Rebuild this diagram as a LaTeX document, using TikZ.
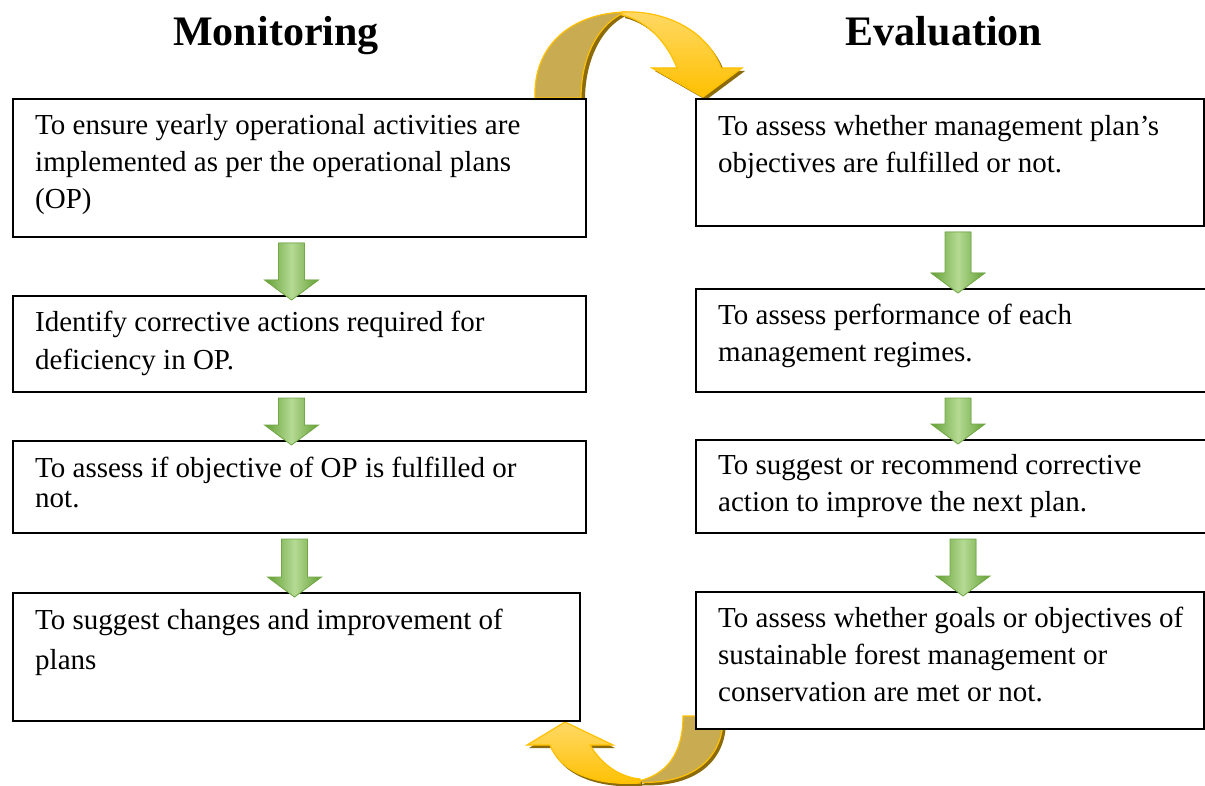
\documentclass[tikz,border=0pt]{standalone}
\usepackage{fontspec}
\setmainfont{Liberation Serif}
\usetikzlibrary{calc}

\definecolor{gold}{HTML}{FFC000}
\definecolor{goldlight}{HTML}{FFD966}
\definecolor{goldback}{HTML}{C9AB52}
\definecolor{goldshadow}{HTML}{8C6B0C}
\definecolor{greenlight}{HTML}{B5DA94}
\definecolor{greendark}{HTML}{64A035}
\definecolor{greenedge}{HTML}{72A846}
\definecolor{greenshadow}{HTML}{44731F}

\tikzset{
  box/.style={draw, line width=2pt, fill=white, anchor=north west, inner sep=0pt},
  boxtext/.style={anchor=base west, inner sep=0pt},
  title/.style={anchor=base, font=\fontsize{42}{50}\selectfont\bfseries},
  ribbon/.style={draw=gold, line width=1.2pt, top color=goldlight, bottom color=gold},
  ribbonback/.style={draw=gold, line width=1.2pt, fill=goldback},
  ribbonshadow/.style={fill=goldshadow},
}

\newcommand\boxfont{\fontsize{29}{37}\selectfont}
\newcommand\tightfont{\fontsize{29}{30}\selectfont}

% outline of a small down arrow: x, top y, tip y
\newcommand\arrowpath[3]{(#1-13pt,#2) -- (#1+13pt,#2) -- (#1+13pt,#3+20pt) -- (#1+27pt,#3+20pt)
  -- (#1,#3) -- (#1-27pt,#3+20pt) -- (#1-13pt,#3+20pt) -- cycle}

% green arrow from the bottom of one box into the next
\newcommand\greenarrow[2]{%
  \fill[greenshadow, shift={(3pt,-3pt)}] let \p1=#1, \p2=#2 in \arrowpath{\x1}{\y1-5pt}{\y2-5pt};
  \draw[greenedge, line width=0.8pt, left color=greendark, right color=greendark, middle color=greenlight]
    let \p1=#1, \p2=#2 in \arrowpath{\x1}{\y1-5pt}{\y2-5pt};
}

\begin{document}
\begin{tikzpicture}[x=1pt, y=-1pt]
  \useasboundingbox (0,0) rectangle (1205,786);

  % curved arrow over the top
  \fill[ribbonshadow, shift={(4,2)}] (535,98) .. controls (533,45) and (572,13) .. (626,12)
    .. controls (600,22) and (581,55) .. (581,98) -- cycle;
  \draw[ribbonback] (535,98) .. controls (533,45) and (572,13) .. (626,12)
    .. controls (600,22) and (581,55) .. (581,98) -- cycle;
  \fill[ribbonshadow, shift={(3,3)}] (622,12) .. controls (665,10) and (707,30) .. (721,68)
    -- (742,68) -- (703,97) -- (652,68) -- (677,68) .. controls (668,45) and (650,22) .. (622,15) -- cycle;
  \draw[ribbon] (622,12) .. controls (665,10) and (707,30) .. (721,68)
    -- (742,68) -- (703,97) -- (652,68) -- (677,68) .. controls (668,45) and (650,22) .. (622,15) -- cycle;

  % curved arrow underneath, back to the left
  \fill[ribbonshadow, shift={(3,3)}] (683,716) .. controls (683,752) and (668,776) .. (634,782)
    .. controls (690,786) and (724,760) .. (723,716) -- cycle;
  \draw[ribbonback] (683,716) .. controls (683,752) and (668,776) .. (634,782)
    .. controls (690,786) and (724,760) .. (723,716) -- cycle;
  \fill[ribbonshadow, shift={(2,3)}] (640,783) .. controls (595,786) and (560,772) .. (550,745)
    -- (527,745) -- (565,722) -- (613,745) -- (590,745) .. controls (602,765) and (620,777) .. (640,779) -- cycle;
  \draw[ribbon] (640,783) .. controls (595,786) and (560,772) .. (550,745)
    -- (527,745) -- (565,722) -- (613,745) -- (590,745) .. controls (602,765) and (620,777) .. (640,779) -- cycle;

  % titles
  \node[title] (montitle) at (276,46) {Monitoring};
  \node[title] (evaltitle) at (944,46) {Evaluation};

  % monitoring boxes
  \node[box, minimum width=573pt, minimum height=138pt] (L1) at (12,98) {};
  \node[box, minimum width=573pt, minimum height=96pt] (L2) at (12,295) {};
  \node[box, minimum width=573pt, minimum height=92pt] (L3) at (12,440) {};
  \node[box, minimum width=567pt, minimum height=128pt] (L4) at (12,592) {};

  % evaluation boxes
  \node[box, minimum width=508pt, minimum height=127pt] (R1) at (695,98) {};
  \node[box, minimum width=520pt, minimum height=103pt] (R2) at (695,288) {};
  \node[box, minimum width=520pt, minimum height=93pt] (R3) at (695,439) {};
  \node[box, minimum width=508pt, minimum height=137pt] (R4) at (695,591) {};

  % arrows between the boxes
  \greenarrow{([xshift=-8pt]L1.south)}{(L2.north)}
  \greenarrow{([xshift=-8pt]L2.south)}{(L3.north)}
  \greenarrow{([xshift=-5pt]L3.south)}{(L4.north)}
  \greenarrow{([xshift=8pt]R1.south)}{(R2.north)}
  \greenarrow{([xshift=2pt]R2.south)}{(R3.north)}
  \greenarrow{([xshift=7pt]R3.south)}{(R4.north)}

  % box texts
  \node[boxtext] (l1text) at ([shift={(23,37)}]L1.north west) {\parbox[t]{560pt}{\boxfont
    To ensure yearly operational activities are\\ implemented as per the operational plans\\ (OP)}};
  \node[boxtext] (l2text) at ([shift={(23,37)}]L2.north west) {\parbox[t]{560pt}{\boxfont
    Identify corrective actions required for\\ deficiency in OP.}};
  \node[boxtext] (l3text) at ([shift={(23,37)}]L3.north west) {\parbox[t]{560pt}{\tightfont
    To assess if objective of OP is fulfilled or\\ not.}};
  \node[boxtext] (l4text) at ([shift={(23,37)}]L4.north west) {\parbox[t]{560pt}{\fontsize{29}{40}\selectfont
    To suggest changes and improvement of\\ plans}};

  \node[boxtext] (r1text) at ([shift={(23,38)}]R1.north west) {\parbox[t]{500pt}{\boxfont
    To assess whether management plan’s\\ objectives are fulfilled or not.}};
  \node[boxtext] (r2text) at ([shift={(23,37)}]R2.north west) {\parbox[t]{500pt}{\boxfont
    To assess performance of each\\ management regimes.}};
  \node[boxtext] (r3text) at ([shift={(23,35)}]R3.north west) {\parbox[t]{500pt}{\boxfont
    To suggest or recommend corrective\\ action to improve the next plan.}};
  \node[boxtext] (r4text) at ([shift={(23,36)}]R4.north west) {\parbox[t]{500pt}{\boxfont
    To assess whether goals or objectives of\\ sustainable forest management or\\ conservation are met or not.}};
\end{tikzpicture}
\end{document}
